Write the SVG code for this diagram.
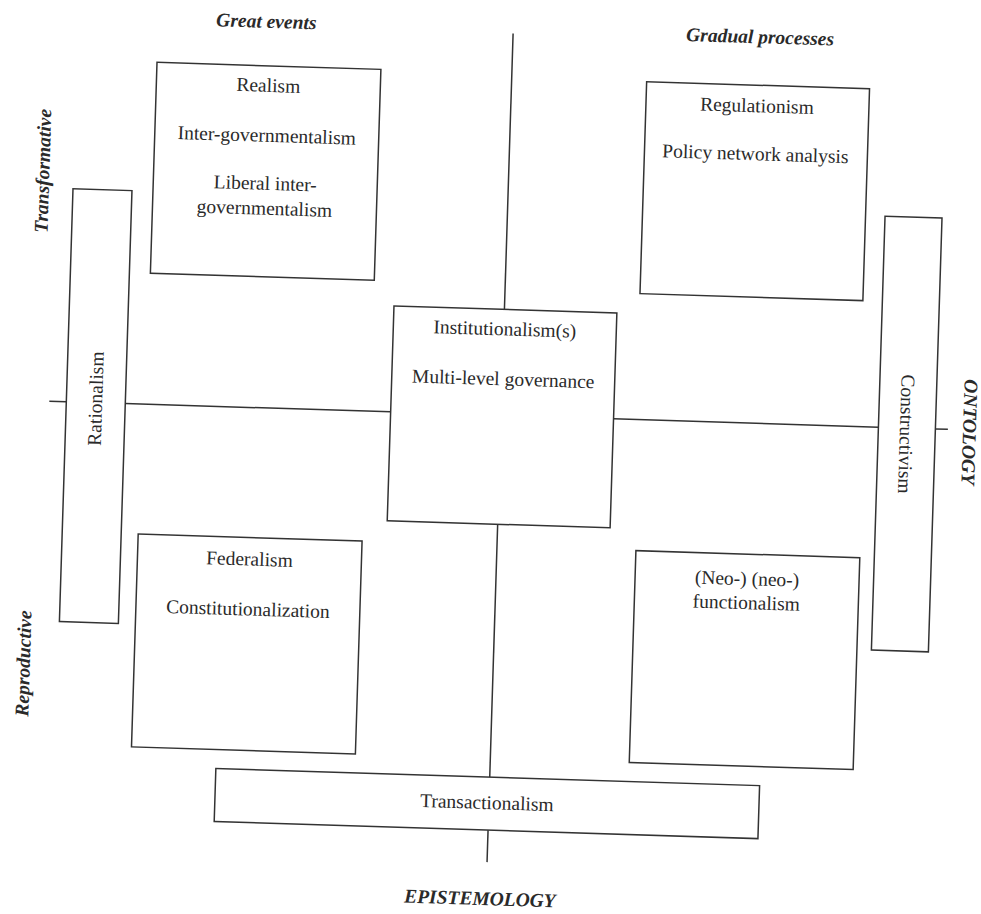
<svg xmlns="http://www.w3.org/2000/svg" width="981" height="914" viewBox="0 0 981 914">
<style>
.box{fill:#fff;stroke:#333;stroke-width:1.5}
.ax{stroke:#333;stroke-width:1.5;fill:none}
.t{font-family:"Liberation Serif","Times New Roman",serif;font-size:19.5px;fill:#2a2a2a;text-anchor:middle}
.h{font-family:"Liberation Serif","Times New Roman",serif;font-size:19.5px;font-weight:bold;font-style:italic;fill:#2a2a2a;text-anchor:middle}
</style>
<rect width="981" height="914" fill="#fff"/>
<g transform="rotate(1.8 490 450)">
<g id="connectors">
<line class="ax" x1="500" y1="33" x2="500" y2="309"/>
<line class="ax" x1="500" y1="524" x2="500" y2="777"/>
<line class="ax" x1="500" y1="830" x2="500" y2="862"/>
<line class="ax" x1="48" y1="415" x2="65" y2="415"/>
<line class="ax" x1="124" y1="415" x2="389.5" y2="415"/>
<line class="ax" x1="612.5" y1="415" x2="877.5" y2="415"/>
<line class="ax" x1="934.5" y1="415" x2="947" y2="415"/>
</g>
<g id="realism">
<rect class="box" x="145" y="73" width="224" height="211"/>
<text class="t" x="257" y="99">Realism</text>
<text class="t" x="257" y="149">Inter-governmentalism</text>
<text class="t" x="257" y="197">Liberal inter-</text>
<text class="t" x="257" y="222">governmentalism</text>
</g>
<g id="regulationism">
<rect class="box" x="635" y="77" width="223" height="212"/>
<text class="t" x="746" y="104">Regulationism</text>
<text class="t" x="746" y="152">Policy network analysis</text>
</g>
<g id="institutionalism">
<rect class="box" x="389.5" y="309" width="223" height="215"/>
<text class="t" x="501" y="335">Institutionalism(s)</text>
<text class="t" x="501" y="385">Multi-level governance</text>
</g>
<g id="federalism">
<rect class="box" x="141" y="545" width="224" height="213"/>
<text class="t" x="253" y="573">Federalism</text>
<text class="t" x="253" y="623">Constitutionalization</text>
</g>
<g id="functionalism">
<rect class="box" x="639" y="546" width="224" height="212"/>
<text class="t" x="751" y="577">(Neo-) (neo-)</text>
<text class="t" x="751" y="601">functionalism</text>
</g>
<g id="rationalism">
<rect class="box" x="65" y="202" width="59" height="433"/>
<text class="t" transform="translate(94 411) rotate(-90)" dy="0.35em">Rationalism</text>
</g>
<g id="constructivism">
<rect class="box" x="877.5" y="204" width="57" height="434"/>
<text class="t" transform="translate(906 421) rotate(90)" dy="0.35em">Constructivism</text>
</g>
<g id="transactionalism">
<rect class="box" x="226" y="777" width="544" height="53"/>
<text class="t" x="498" y="809">Transactionalism</text>
</g>
<g id="labels">
<text class="h" x="253" y="35">Great events</text>
<text class="h" x="747" y="35">Gradual processes</text>
<text class="h" transform="translate(34 185) rotate(-90)" dy="0.35em">Transformative</text>
<text class="h" transform="translate(30 678) rotate(-90)" dy="0.35em">Reproductive</text>
<text class="h" transform="translate(969 417) rotate(90)" dy="0.35em">ONTOLOGY</text>
<text class="h" x="494" y="905">EPISTEMOLOGY</text>
</g>
</g>
</svg>
